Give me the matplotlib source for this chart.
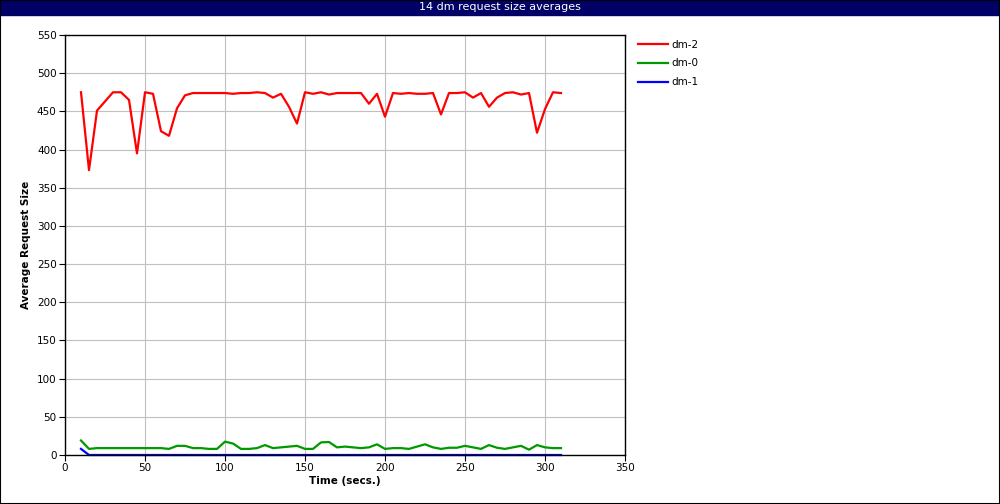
import matplotlib
matplotlib.use("Agg")
import matplotlib.pyplot as plt
from matplotlib.patches import Rectangle
import numpy as np

NAVY, GRID = "#000066", "#c0c0c0"
plt.rcParams.update({"font.family": ["DejaVu Sans"], "font.size": 7.5})

# sample times every 5 s from 10 to 310
times = np.arange(10, 311, 5)

dm2 = [475, 373, 451, 463, 475, 475, 465, 395, 475, 473, 424, 418, 454, 471,
       474, 474, 474, 474, 474, 473, 474, 474, 475, 474, 468, 473, 456, 434,
       475, 473, 475, 472, 474, 474, 474, 474, 460, 473, 443, 474, 473, 474,
       473, 473, 474, 446, 474, 474, 475, 468, 474, 456, 468, 474, 475, 472,
       474, 422, 453, 475, 474]
dm0 = [19, 8, 9, 9, 9, 9, 9, 9, 9, 9, 9, 8, 12, 12, 9, 9, 8, 8, 17.5, 15,
       8, 8, 9, 13, 9, 10, 11, 12, 8, 8, 16.5, 17, 10, 11, 10, 9, 10, 14, 8,
       9, 9, 8, 11, 14, 10, 8, 9.5, 9.5, 12, 10, 8, 13, 9.5, 8, 10, 12, 7,
       13, 10, 9, 9]
dm1 = [8] + [0] * 60

series = [("dm-2", dm2, "#ff0000"), ("dm-0", dm0, "#009900"),
          ("dm-1", dm1, "#0000ff")]

fig = plt.figure(figsize=(10, 5.04), dpi=100)
ax = fig.add_axes([0.065, 49 / 504, 0.56, 420 / 504])

for name, vals, col in series:
    ax.plot(times, vals, color=col, lw=1.6, label=name, clip_on=False)

ax.set_xlim(0, 350)
ax.set_ylim(0, 550)
ax.set_xticks(np.arange(0, 351, 50))
ax.set_yticks(np.arange(0, 551, 50))
ax.grid(True, color=GRID, lw=0.8)
ax.set_axisbelow(True)
ax.tick_params(direction="out", length=4, width=0.8, pad=2)
for s in ax.spines.values():
    s.set_color("black")
    s.set_linewidth(1.0)
ax.set_xlabel("Time (secs.)", fontweight="bold", labelpad=2)
ax.set_ylabel("Average Request Size", fontweight="bold", labelpad=4)

fig.legend(loc="upper left", bbox_to_anchor=(0.629, 0.94), frameon=False,
           handlelength=2.8, handletextpad=0.4, labelspacing=0.85)

# title bar and outer frame
fig.add_artist(Rectangle((0, 1 - 15 / 504), 1, 15 / 504,
                         transform=fig.transFigure, color=NAVY, zorder=0))
fig.text(0.5, 1 - 7.5 / 504, "14 dm request size averages", color="white",
         ha="center", va="center", fontsize=8)
fig.add_artist(Rectangle((0, 0), 1, 1, transform=fig.transFigure,
                         fill=False, ec="black", lw=1.5))

fig.savefig("out.png", dpi=100)
